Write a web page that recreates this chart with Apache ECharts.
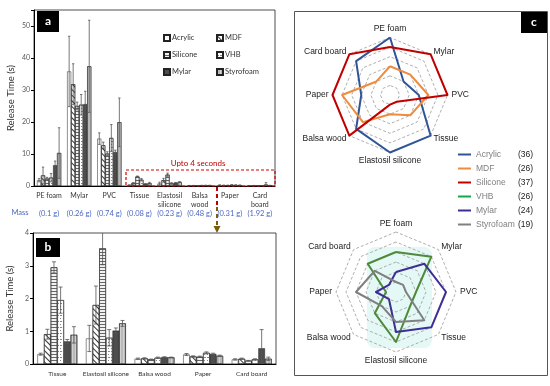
<!DOCTYPE html>
<html><head><meta charset="utf-8">
<script src="https://cdn.jsdelivr.net/npm/echarts@6/dist/echarts.min.js"></script>
<style>html,body{margin:0;padding:0;background:#fff;}#l,#r{position:absolute;left:0;top:0;width:550px;height:386px;}</style>
</head><body><div id="l"></div><div id="r"></div>
<script>
// ---------- data ----------
const categories = ['PE foam','Mylar','PVC','Tissue','Elastosil silicone','Balsa wood','Paper','Card board'];
const aTickLabels = ['PE foam','Mylar','PVC','Tissue','Elastosil\nsilicone','Balsa\nwood','Paper','Card\nboard'];
const masses = ['(0.1 g)','(0.26 g)','(0.74 g)','(0.08 g)','(0.23 g)','(0.48 g)','(0.31 g)','(1.92 g)'];
const materials = ['Acrylic','MDF','Silicone','VHB','Mylar','Styrofoam'];

const acrylic   = [1.8, 35.8, 14.8, 0.30, 0.78, 0.16, 0.29, 0.14];
const mdf       = [3.3, 31.8, 12.7, 0.91, 1.80, 0.17, 0.23, 0.16];
const silicone  = [2.3, 25.0, 10.1, 2.95, 3.53, 0.14, 0.22, 0.10];
const vhb       = [2.6, 25.4, 15.0, 1.95, 0.80, 0.19, 0.34, 0.14];
const mylar     = [6.5, 25.6, 10.6, 0.69, 1.02, 0.21, 0.31, 0.48];
const styrofoam = [10.3, 37.4, 19.9, 0.89, 1.24, 0.20, 0.25, 0.16];

const errAcrylic   = [0.5, 11.0, 1.8, 0.03, 0.40, 0.02, 0.03, 0.02];
const errMdf       = [2.6, 6.4, 1.0, 0.15, 0.58, 0.02, 0.02, 0.02];
const errSilicone  = [0.4, 1.2, 0.6, 0.17, 0.50, 0.01, 0.02, 0.01];
const errVhb       = [1.3, 3.2, 4.2, 0.40, 0.25, 0.02, 0.03, 0.02];
const errMylar     = [1.3, 4.0, 0.6, 0.06, 0.08, 0.01, 0.02, 0.57];
const errStyrofoam = [7.9, 14.4, 7.6, 0.25, 0.09, 0.01, 0.02, 0.05];

const aYTicks = [0, 10, 20, 30, 40, 50];
const bYTicks = [0, 1, 2, 3, 4];

// radar scores (clockwise from top)
const radarAxes = ['PE foam','Mylar','PVC','Tissue','Elastosil silicone','Balsa wood','Paper','Card board'];
const rankAcrylic   = [6,2,3,6,6,5,3,5];
const rankMdf       = [3,3,4,3,2,4,5,2];
const rankSilicone  = [5,6,6,1,1,6,6,6];
const rankVhb       = [4,5,2,2,5,3,1,4];
const rankMylar     = [2,4,5,5,4,1,2,1];
const rankStyrofoam = [1,1,1,4,3,2,4,3];

// ---------- chart L (panels a, b) ----------
const values = [acrylic, mdf, silicone, vhb, mylar, styrofoam];
const errors = [errAcrylic, errMdf, errSilicone, errVhb, errMylar, errStyrofoam];
const FONT = "'Liberation Sans Narrow', Lato, 'Liberation Sans', sans-serif";
const BC = '#222', BW = 0.5;
const styles = [
  {color:'#ffffff', borderColor:BC, borderWidth:BW},
  {color:'#ffffff', borderColor:BC, borderWidth:BW, decal:{symbol:'rect', symbolSize:1, dashArrayX:[1,0], dashArrayY:[1,2.2], rotation:Math.PI/4, color:'#333'}},
  {color:'#f2f2f2', borderColor:BC, borderWidth:BW, decal:{symbol:'rect', symbolSize:1, dashArrayX:[1,0], dashArrayY:[1,1.6], rotation:0, color:'#666'}},
  {color:'#ffffff', borderColor:BC, borderWidth:BW, decal:{symbol:'rect', symbolSize:1, dashArrayX:[[2,1],[1,2]], dashArrayY:[1,1.2], rotation:0, color:'#888'}},
  {color:'#4d4d4d', borderColor:BC, borderWidth:BW},
  {color:'#b8b8b8', borderColor:BC, borderWidth:BW, decal:{symbol:'rect', symbolSize:1, dashArrayX:[1,2], dashArrayY:[1,0], rotation:0, color:'rgba(255,255,255,0.35)'}}
];

function makeErr(i, g){
  return function(params, api){
    const x = api.value(0), v = api.value(1), e = api.value(2);
    const band = api.size([1,0])[0];
    const bw = band*(1-g)/6;
    const cx = api.coord([x, v])[0] + (i-2.5)*bw;
    const yt = api.coord([x, v+e])[1];
    const yb = api.coord([x, Math.max(v-e,0)])[1];
    const cap = Math.max(bw*0.3, 1.2);
    const st = {stroke:'#555', lineWidth:0.8, fill:null};
    return {type:'group', children:[
      {type:'line', shape:{x1:cx,y1:yt,x2:cx,y2:yb}, style:st},
      {type:'line', shape:{x1:cx-cap,y1:yt,x2:cx+cap,y2:yt}, style:st},
      {type:'line', shape:{x1:cx-cap,y1:yb,x2:cx+cap,y2:yb}, style:st}
    ]};
  };
}

const seriesL = [];
function addGroup(ax, start, g){
  materials.forEach((m,i)=>{
    seriesL.push({type:'bar', name:m, xAxisIndex:ax, yAxisIndex:ax, data:values[i].slice(start),
      barGap:'0%', barCategoryGap:(g*100)+'%', itemStyle:styles[i], emphasis:{disabled:true}});
  });
  materials.forEach((m,i)=>{
    seriesL.push({type:'custom', name:m+' err', xAxisIndex:ax, yAxisIndex:ax, clip:true, silent:true, z:5,
      data:values[i].slice(start).map((v,k)=>[k, v, errors[i][k+start]]),
      encode:{x:0, y:1}, renderItem:makeErr(i, g)});
  });
}
addGroup(0, 0, 0.2);
addGroup(1, 3, 0.18);

function yAxisCfg(grid, ticks, max){
  return {type:'value', gridIndex:grid, min:0, max:max, interval:ticks[1]-ticks[0],
    axisLine:{show:true, lineStyle:{color:'#000', width:1}},
    axisTick:{show:true, length:3, lineStyle:{color:'#000'}},
    splitLine:{show:false},
    axisLabel:{fontSize:7, color:'#595959', margin:4, fontFamily:FONT,
      formatter:(v)=> ticks.indexOf(v) >= 0 ? String(v) : ''},
    name:'Release Time (s)', nameLocation:'middle', nameGap:18,
    nameTextStyle:{fontSize:9.5, color:'#333', fontFamily:FONT}};
}

const legendCommon = {orient:'vertical', padding:0, itemWidth:6, itemHeight:6, itemGap:9, icon:'rect',
  textStyle:{fontSize:7.5, color:'#333', fontFamily:FONT, padding:[0,0,0,-3]}, selectedMode:false};

const optL = {
  backgroundColor:'#fff',
  animation:false,
  grid:[
    {left:34, top:10, width:241, height:176, show:true, borderColor:'#222', borderWidth:0.8},
    {left:33, top:233, width:243, height:131, show:true, borderColor:'#222', borderWidth:0.8}
  ],
  xAxis:[
    {type:'category', gridIndex:0, data:categories, axisTick:{show:false},
      axisLine:{lineStyle:{color:'#000'}},
      axisLabel:{interval:0, margin:5, formatter:(v, idx)=>{
        const l = aTickLabels[idx].split('\n');
        return '{n|'+l[0]+'}\n{n|'+(l[1]||' ')+'}\n{m|'+masses[idx]+'}';
      }, rich:{n:{fontSize:7, color:'#333', lineHeight:9, fontFamily:FONT}, m:{fontSize:7.5, color:'#4a66c0', lineHeight:9, fontFamily:FONT}}}},
    {type:'category', gridIndex:1, data:categories.slice(3), axisTick:{show:false},
      axisLine:{lineStyle:{color:'#000'}},
      axisLabel:{interval:0, margin:6, fontSize:6.5, color:'#333', fontFamily:FONT}}
  ],
  yAxis:[ yAxisCfg(0, aYTicks, 55), yAxisCfg(1, bYTicks, 4) ],
  legend:[
    Object.assign({left:163, top:34, data:['Acrylic','Silicone','Mylar']}, legendCommon),
    Object.assign({left:216, top:34, data:['MDF','VHB','Styrofoam']}, legendCommon)
  ],
  series:seriesL,
  graphic:[
    {type:'rect', shape:{x:37, y:11, width:22, height:21}, style:{fill:'#000'}},
    {type:'text', x:48, y:21.5, style:{text:'a', fill:'#fff', font:'bold 12px Lato, sans-serif', align:'center', verticalAlign:'middle'}},
    {type:'rect', shape:{x:36, y:238, width:24, height:19}, style:{fill:'#000'}},
    {type:'text', x:48, y:247.5, style:{text:'b', fill:'#fff', font:'bold 12px Lato, sans-serif', align:'center', verticalAlign:'middle'}},
    {type:'text', x:20, y:213, style:{text:'Mass', fill:'#4a66c0', font:'7.5px '+FONT, align:'center', verticalAlign:'middle'}},
    {type:'rect', z:20, shape:{x:126, y:170, width:149, height:16}, style:{fill:null, stroke:'#d00000', lineWidth:1.2, lineDash:[3,2]}},
    {type:'text', z:20, x:198, y:163, style:{text:'Upto 4 seconds', fill:'#c00000', font:'8px '+FONT, align:'center', verticalAlign:'middle'}},
    {type:'line', z:20, shape:{x1:217, y1:187, x2:217, y2:205}, style:{stroke:'#c00000', lineWidth:2, lineDash:[4,3]}},
    {type:'line', z:20, shape:{x1:217, y1:207, x2:217, y2:227}, style:{stroke:'#7a5c10', lineWidth:2, lineDash:[4,3]}},
    {type:'polygon', z:20, shape:{points:[[213.5,226],[220.5,226],[217,233]]}, style:{fill:'#7a5c10'}}
  ]
};
echarts.init(document.getElementById('l')).setOption(optL);

// ---------- chart R (panel c) ----------
const order = [0,7,6,5,4,3,2,1]; // ECharts places indicators counter-clockwise
const reorder = (a)=> order.map(i=>a[i]);
const indicators = order.map(i=>({name:radarAxes[i], min:0, max:6}));
const radarColors = {Acrylic:'#2f5597', MDF:'#f08a3c', Silicone:'#c00000', VHB:'#4e8a3a', Mylar:'#3e2f96', Styrofoam:'#808080'};
const ranks = {Acrylic:rankAcrylic, MDF:rankMdf, Silicone:rankSilicone, VHB:rankVhb, Mylar:rankMylar, Styrofoam:rankStyrofoam};
const totals = {};
materials.forEach(m=> totals[m] = ranks[m].reduce((s,v)=>s+v,0));

function radarCfg(center, r){
  return {center:center, radius:r, indicator:indicators, shape:'polygon', splitNumber:6,
    nameGap:4, axisName:{color:'#222', fontSize:8.5, fontFamily:"'Liberation Sans', Arial, sans-serif"},
    splitLine:{lineStyle:{color:'#9a9a9a', type:[3,2], width:0.8}},
    splitArea:{show:false}, axisLine:{show:false}, axisTick:{show:false}, axisLabel:{show:false}};
}
function radarItem(m){
  return {name:m, value:reorder(ranks[m]), symbol:'none',
    lineStyle:{color:radarColors[m], width:2}, itemStyle:{color:radarColors[m]}};
}
const optR = {
  backgroundColor:'transparent',
  animation:false,
  radar:[ radarCfg([390,95], 57.5), radarCfg([396,292], 60) ],
  legend:{orient:'vertical', left:458, top:150, padding:0, itemWidth:13, itemHeight:2, itemGap:5, icon:'rect',
    selectedMode:false,
    data:materials.map(m=>({name:m, itemStyle:{color: m==='VHB' ? '#10a84a' : radarColors[m]}})),
    formatter:(name)=>'{n|'+name+'}{c|('+totals[name]+')}',
    textStyle:{rich:{n:{width:42, color:'#808080', fontSize:8.5, lineHeight:10, fontFamily:"'Liberation Sans', Arial, sans-serif"},
                     c:{color:'#222', fontSize:8.5, lineHeight:10, fontFamily:"'Liberation Sans', Arial, sans-serif"}}}},
  series:[
    {type:'radar', radarIndex:0, emphasis:{disabled:true}, data:['Acrylic','MDF','Silicone'].map(radarItem)},
    {type:'radar', radarIndex:1, emphasis:{disabled:true}, data:['VHB','Mylar','Styrofoam'].map(radarItem)}
  ],
  graphic:[
    {type:'rect', z:-10, shape:{x:367, y:247, width:65, height:101, r:8}, style:{fill:'#e4f8f6'}},
    {type:'rect', shape:{x:294.5, y:11.5, width:253, height:364}, style:{fill:null, stroke:'#555', lineWidth:1}},
    {type:'rect', shape:{x:521, y:12, width:26, height:21}, style:{fill:'#000'}},
    {type:'text', x:534, y:22.5, style:{text:'c', fill:'#fff', font:'bold 12px Lato, sans-serif', align:'center', verticalAlign:'middle'}}
  ]
};
echarts.init(document.getElementById('r')).setOption(optR);
</script>
</body></html>
